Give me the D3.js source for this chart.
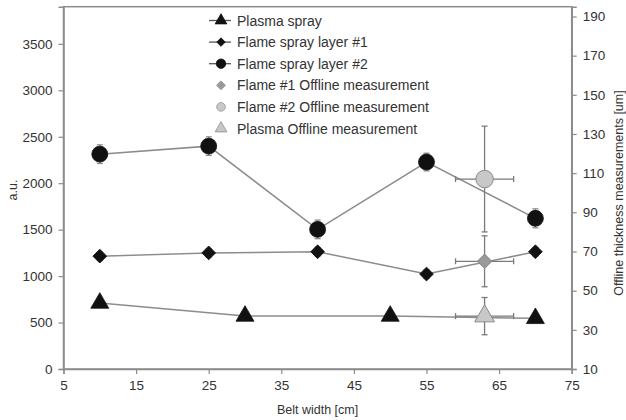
<!DOCTYPE html>
<html><head><meta charset="utf-8">
<script src="https://cdn.jsdelivr.net/npm/d3@7"></script>
<style>body{margin:0;background:#fff}svg{display:block}text{font-family:"Liberation Sans",Arial,sans-serif;fill:#333}</style>
</head><body><svg id="c" width="626" height="420"></svg>
<script>
// Data
const xTicks = [5,15,25,35,45,55,65,75];
const yLeftTicks = [0,500,1000,1500,2000,2500,3000,3500];
const yRightTicks = [10,30,50,70,90,110,130,150,170,190];

const plasmaX = [10,30,50,70];
const plasmaY = [710,570,570,545];
const plasmaErr = [30,30,30,30];

const flame1X = [10,25,40,55,70];
const flame1Y = [1215,1250,1262,1022,1262];
const flame1Err = [45,45,45,45,45];

const flame2X = [10,25,40,55,70];
const flame2Y = [2313,2399,1503,2228,1622];
const flame2Err = [100,100,100,95,102];

// Offline measurements (right axis, um), x error ±4 cm
const offlineNames = ["Flame #1 Offline measurement","Flame #2 Offline measurement","Plasma Offline measurement"];
const offlineX = [63,63,63];
const offlineXErr = [4,4,4];
const offlineY = [65,107,37];
const offlineYErr = [13,27,9.5];

const legendNames = ["Plasma spray","Flame spray layer #1","Flame spray layer #2"].concat(offlineNames);

const svg = d3.select("#c");
const L=63.5, R=571.7, T=6.7, B=369;
const x = d3.scaleLinear().domain([5,75]).range([L,R]);
const yL = d3.scaleLinear().domain([0,3900]).range([B,T]);
const yR = d3.scaleLinear().domain([10,195]).range([B,T]);

const axisCol="#8c8c8c", lineCol="#8c8c8c";

// frame
svg.append("rect").attr("x",L).attr("y",T).attr("width",R-L).attr("height",B-T)
  .attr("fill","none").attr("stroke",axisCol).attr("stroke-width",1.5);

function styleAxis(g){
  g.select(".domain").attr("stroke",axisCol).attr("stroke-width",1.5);
  g.selectAll(".tick line").attr("stroke",axisCol).attr("stroke-width",1.2);
  g.selectAll(".tick text").attr("fill","#333").style("font-size","13.5px").style("font-family","Liberation Sans, Arial, sans-serif");
}
const gx = svg.append("g").attr("transform",`translate(0,${B})`)
  .call(d3.axisBottom(x).tickValues(xTicks).tickSize(5).tickPadding(6).tickFormat(d3.format("d")));
styleAxis(gx);
const gyl = svg.append("g").attr("transform",`translate(${L},0)`)
  .call(d3.axisLeft(yL).tickValues(yLeftTicks).tickSize(5).tickPadding(6).tickFormat(d3.format("d")));
styleAxis(gyl);
const gyr = svg.append("g").attr("transform",`translate(${R},0)`)
  .call(d3.axisRight(yR).tickValues(yRightTicks).tickSize(5).tickPadding(6).tickFormat(d3.format("d")));
styleAxis(gyr);

// titles
svg.append("text").attr("x",(L+R)/2).attr("y",414).attr("text-anchor","middle").style("font-size","12.5px").text("Belt width [cm]");
svg.append("text").attr("transform","translate(17,190) rotate(-90)").attr("text-anchor","middle").style("font-size","12.5px").text("a.u.");
svg.append("text").attr("transform","translate(623,193) rotate(-90)").attr("text-anchor","middle").style("font-size","12.5px").text("Offline thickness measurements [um]");

// symbol helper: "diamond" = square rotated 45°
function sym(shape, size){ return d3.symbol().type(shape==="diamond"?d3.symbolSquare:shape).size(size)(); }
function rot(shape){ return shape==="diamond" ? " rotate(45)" : ""; }

const line = d3.line();
function series(xs, ys, errs, shape, size){
  const pts = xs.map((d,i)=>[x(d), yL(ys[i])]);
  svg.append("path").attr("d",line(pts)).attr("fill","none").attr("stroke",lineCol).attr("stroke-width",1.5);
  const g = svg.append("g");
  xs.forEach((d,i)=>{
    const cx=x(d), y1=yL(ys[i]+errs[i]), y2=yL(ys[i]-errs[i]);
    g.append("line").attr("x1",cx).attr("x2",cx).attr("y1",y1).attr("y2",y2).attr("stroke",lineCol).attr("stroke-width",1.3);
    g.append("line").attr("x1",cx-3).attr("x2",cx+3).attr("y1",y1).attr("y2",y1).attr("stroke",lineCol).attr("stroke-width",1.3);
    g.append("line").attr("x1",cx-3).attr("x2",cx+3).attr("y1",y2).attr("y2",y2).attr("stroke",lineCol).attr("stroke-width",1.3);
  });
  xs.forEach((d,i)=>{
    g.append("path").attr("d",sym(shape,size))
      .attr("transform",`translate(${x(d)},${yL(ys[i])})`+rot(shape)).attr("fill","#111").attr("stroke","#111").attr("stroke-width",0.8);
  });
}
series(plasmaX, plasmaY, plasmaErr, d3.symbolTriangle, 140);
series(flame1X, flame1Y, flame1Err, "diamond", 95);
series(flame2X, flame2Y, flame2Err, d3.symbolCircle, 200);

// offline
const offShapes=["diamond",d3.symbolCircle,d3.symbolTriangle];
const offFill=["#9a9a9a","#c8c8c8","#c8c8c8"];
const offSize=[100,240,170];
const errCol="#7a7a7a";
offlineX.forEach((d,i)=>{
  const cx=x(d), cy=yR(offlineY[i]);
  const y1=yR(offlineY[i]+offlineYErr[i]), y2=yR(offlineY[i]-offlineYErr[i]);
  const x1=x(d-offlineXErr[i]), x2=x(d+offlineXErr[i]);
  const g=svg.append("g");
  g.append("line").attr("x1",cx).attr("x2",cx).attr("y1",y1).attr("y2",y2).attr("stroke",errCol).attr("stroke-width",1.3);
  g.append("line").attr("x1",cx-3).attr("x2",cx+3).attr("y1",y1).attr("y2",y1).attr("stroke",errCol).attr("stroke-width",1.3);
  g.append("line").attr("x1",cx-3).attr("x2",cx+3).attr("y1",y2).attr("y2",y2).attr("stroke",errCol).attr("stroke-width",1.3);
  g.append("line").attr("x1",x1).attr("x2",x2).attr("y1",cy).attr("y2",cy).attr("stroke",errCol).attr("stroke-width",1.3);
  g.append("line").attr("x1",x1).attr("x2",x1).attr("y1",cy-3).attr("y2",cy+3).attr("stroke",errCol).attr("stroke-width",1.3);
  g.append("line").attr("x1",x2).attr("x2",x2).attr("y1",cy-3).attr("y2",cy+3).attr("stroke",errCol).attr("stroke-width",1.3);
  g.append("path").attr("d",sym(offShapes[i],offSize[i]))
    .attr("transform",`translate(${cx},${cy})`+rot(offShapes[i])).attr("fill",offFill[i]).attr("stroke","#8a8a8a").attr("stroke-width",1);
});

// legend
const legShapes=[d3.symbolTriangle,"diamond",d3.symbolCircle,"diamond",d3.symbolCircle,d3.symbolTriangle];
const legFill=["#111","#111","#111","#9a9a9a","#c8c8c8","#c8c8c8"];
const legStroke=["#111","#111","#111","#9a9a9a","#9a9a9a","#8a8a8a"];
const legLine=[true,true,true,false,false,false];
const legSize=[60,36,70,40,60,60];
legendNames.forEach((n,i)=>{
  const cy = 20.5 + i*21.6;
  const g=svg.append("g");
  if(legLine[i]) g.append("line").attr("x1",209).attr("x2",231).attr("y1",cy).attr("y2",cy).attr("stroke","#555").attr("stroke-width",1.3);
  g.append("path").attr("d",sym(legShapes[i],legSize[i]))
    .attr("transform",`translate(221,${cy})`+rot(legShapes[i])).attr("fill",legFill[i]).attr("stroke",legStroke[i]).attr("stroke-width",0.8);
  g.append("text").attr("x",237).attr("y",cy+5).style("font-size","14px").text(n);
});
</script></body></html>
